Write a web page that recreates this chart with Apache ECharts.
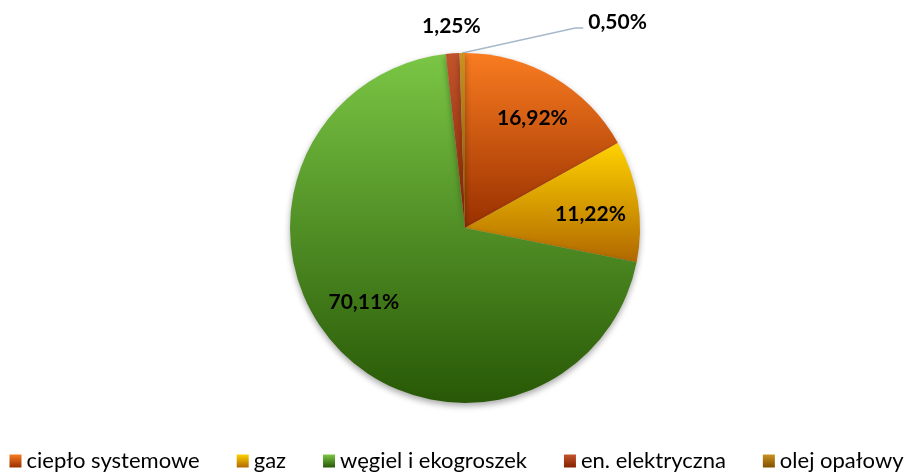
<!DOCTYPE html>
<html><head><meta charset="utf-8">
<script src="https://cdn.jsdelivr.net/npm/echarts@6/dist/echarts.min.js"></script>
<style>html,body{margin:0;padding:0;background:#fff}#c{width:913px;height:474px}</style>
</head><body><div id="c"></div>
<script>
const categories = ['ciepło systemowe', 'gaz', 'węgiel i ekogroszek', 'en. elektryczna', 'olej opałowy'];
const values = [16.92, 11.22, 70.11, 1.25, 0.50];
const topColors = ['#F97C20', '#FFD200', '#7AC645', '#C2542C', '#C99222'];
const bottomColors = ['#993000', '#B06800', '#285806', '#842200', '#7E5000'];

const FONT = 'Lato, "Open Sans", sans-serif';
const grad = i => new echarts.graphic.LinearGradient(0, 0, 0, 1, [
  {offset: 0, color: topColors[i]}, {offset: 1, color: bottomColors[i]}]);
const fmt = v => v.toFixed(2).replace('.', ',') + '%';
const insideOffsets = [[2, 1], [-2, 6], [-6, -13]];

const mainData = categories.map((n, i) => ({
  name: n, value: values[i],
  itemStyle: {color: grad(i)},
  label: i >= 3 ? {show: true, position: 'outside'} : {show: false},
  labelLine: {show: i === 4, lineStyle: {color: '#A8B8CB', width: 1.5}}
}));
const helperData = categories.map((n, i) => ({
  name: n, value: values[i],
  label: {show: i < 3, offset: insideOffsets[i] || [0, 0]}
}));

const chart = echarts.init(document.getElementById('c'));
chart.setOption({
  animation: false,
  legend: {
    bottom: -3, left: 'center', icon: 'rect', itemWidth: 12, itemHeight: 13, itemGap: 37,
    textStyle: {fontFamily: FONT, fontSize: 22, color: '#000'},
    data: categories
  },
  series: [{
    type: 'pie', center: [465, 228], radius: 175, startAngle: 90, clockwise: true,
    avoidLabelOverlap: false,
    itemStyle: {shadowBlur: 6, shadowOffsetY: 3, shadowColor: 'rgba(0,0,0,0.35)'},
    label: {fontFamily: FONT, fontWeight: 'bold', fontSize: 21, color: '#000', formatter: p => fmt(p.value)},
    labelLayout: p => {
      const r = p.rect, cx = r.x + r.width / 2, ty = r.y;
      if (p.dataIndex === 3) return {x: cx - 4, y: ty - 27, align: 'center', verticalAlign: 'middle'};
      if (p.dataIndex === 4) return {x: cx + 126, y: ty - 31, align: 'left', verticalAlign: 'middle',
        labelLinePoints: [[cx, ty], [cx + 113, ty - 25], [cx + 121, ty - 25]]};
      return {};
    },
    data: mainData
  }, {
    type: 'pie', center: [465, 228], radius: [77, 175], startAngle: 90, clockwise: true,
    silent: true, avoidLabelOverlap: false,
    itemStyle: {color: 'rgba(0,0,0,0)'},
    label: {position: 'inside', fontFamily: FONT, fontWeight: 'bold', fontSize: 21, color: '#000', formatter: p => fmt(p.value)},
    labelLine: {show: false},
    data: helperData
  }]
});
</script></body></html>
